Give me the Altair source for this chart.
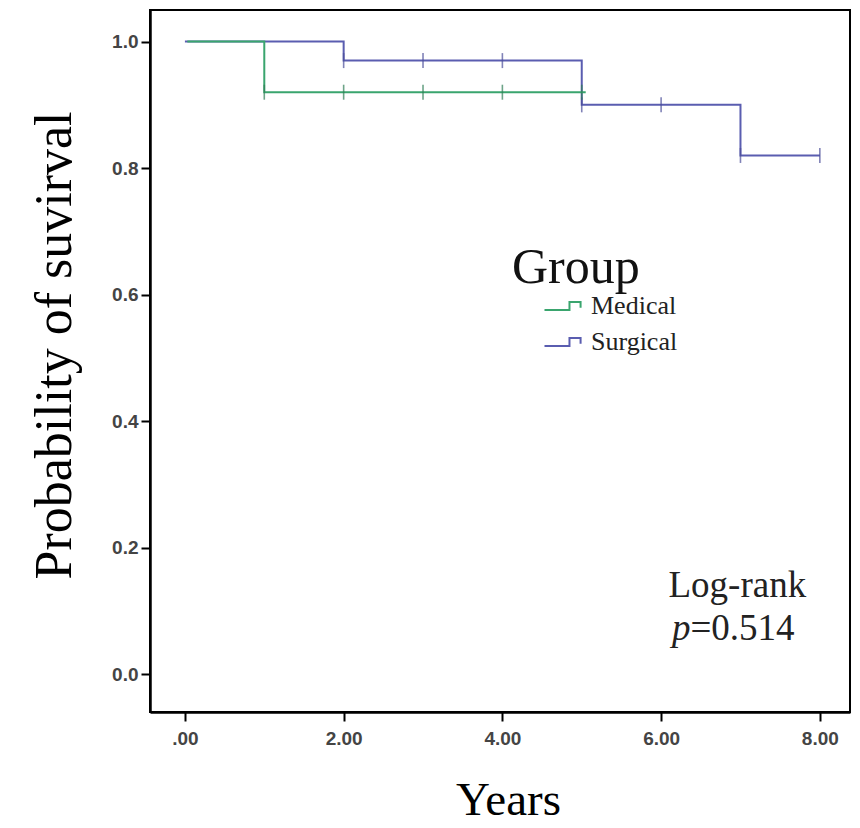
import altair as alt
import pandas as pd

# Kaplan-Meier step points
groups = ["Medical", "Surgical"]
med_t = [0.03, 1.0, 5.05]
med_s = [1.0, 0.92, 0.92]
sur_t = [0.0, 2.0, 5.0, 7.0, 8.0]
sur_s = [1.0, 0.97, 0.90, 0.82, 0.82]

# censoring marks
med_cens_t = [1.0, 2.0, 3.0, 4.0, 5.0]
med_cens_s = [0.92, 0.92, 0.92, 0.92, 0.92]
sur_cens_t = [2.0, 3.0, 4.0, 5.0, 6.0, 7.0, 8.0]
sur_cens_s = [0.97, 0.97, 0.97, 0.90, 0.90, 0.82, 0.82]

x_ticks = [0, 2, 4, 6, 8]
y_ticks = [0.0, 0.2, 0.4, 0.6, 0.8, 1.0]
colors = ["#3aa56e", "#5a5db0"]
cens_colors = ["#2f7d55", "#4a4d98"]

lines = pd.DataFrame({
    "t": sur_t + med_t,
    "s": sur_s + med_s,
    "g": ["Surgical"] * len(sur_t) + ["Medical"] * len(med_t),
    "o": list(range(len(sur_t))) + list(range(len(med_t))),
})
cens = pd.DataFrame({
    "t": sur_cens_t + med_cens_t,
    "s": sur_cens_s + med_cens_s,
    "g": ["Surgical"] * len(sur_cens_t) + ["Medical"] * len(med_cens_t),
})

serif = "Liberation Serif"
sans = "Liberation Sans"

xscale = alt.Scale(domain=[-0.44, 8.38], nice=False, zero=False)
yscale = alt.Scale(domain=[-0.06, 1.05], nice=False, zero=False)

xaxis = alt.Axis(values=x_ticks, title="Years", grid=False,
                 labelExpr="datum.value == 0 ? '.00' : format(datum.value, '.2f')",
                 labelFont=sans, labelFontSize=19, labelColor="#444", labelFontWeight="bold",
                 labelPadding=8, tickSize=9, tickWidth=2, tickColor="black",
                 domainColor="black", domainWidth=2.5,
                 titleFont=serif, titleFontSize=47, titleFontWeight="normal",
                 titleColor="black", titleX=358, titleY=102,
                 titleAlign="center", titleBaseline="alphabetic")
yaxis = alt.Axis(values=y_ticks, title="Probability of suvirval", grid=False, format=".1f",
                 labelFont=sans, labelFontSize=19, labelColor="#444", labelFontWeight="bold",
                 labelPadding=3, tickSize=9, tickWidth=2, tickColor="black",
                 domainColor="black", domainWidth=2.5,
                 titleFont=serif, titleFontSize=52, titleFontWeight="normal",
                 titleColor="black", titleX=-80, titleY=335,
                 titleAlign="center", titleBaseline="alphabetic", titleAngle=-90)

color_scale = alt.Scale(domain=groups, range=colors)

line_layer = alt.Chart(lines).mark_line(interpolate="step-after", strokeWidth=2).encode(
    x=alt.X("t:Q", scale=xscale, axis=xaxis),
    y=alt.Y("s:Q", scale=yscale, axis=yaxis),
    color=alt.Color("g:N", scale=color_scale,
                    legend=alt.Legend(title=None, orient="none", legendX=393, legendY=276,
                                      labelFont=serif, labelFontSize=26, labelColor="#222",
                                      symbolType="M-1,0.22H0.35V-0.22H0.95V0.1",
                                      symbolSize=1370, symbolStrokeWidth=2,
                                      symbolFillColor="transparent", rowPadding=3,
                                      labelOffset=8, padding=0, offset=0)),
    order="o:Q",
    detail="g:N",
)

tick_layer = alt.Chart(cens).mark_tick(orient="vertical", size=15, thickness=1.6).encode(
    x=alt.X("t:Q", scale=xscale),
    y=alt.Y("s:Q", scale=yscale),
    color=alt.Color("g:N", scale=alt.Scale(domain=groups, range=cens_colors), legend=None),
)

group_title = alt.Chart().mark_text(font=serif, fontSize=50, align="left", baseline="alphabetic",
                                    color="#111").encode(
    x=alt.datum(4.12), y=alt.datum(0.619), text=alt.value("Group"))
logrank = alt.Chart().mark_text(font=serif, fontSize=37, align="center", baseline="alphabetic",
                                color="#222").encode(
    x=alt.datum(6.96), y=alt.datum(0.122), text=alt.value("Log-rank"))
p_it = alt.Chart().mark_text(font=serif, fontSize=37, fontStyle="italic", align="right",
                             baseline="alphabetic", color="#222").encode(
    x=alt.datum(6.37), y=alt.datum(0.054), text=alt.value("p"))
p_val = alt.Chart().mark_text(font=serif, fontSize=37, align="left",
                              baseline="alphabetic", color="#222").encode(
    x=alt.datum(6.37), y=alt.datum(0.054), text=alt.value("=0.514"))

chart = alt.layer(line_layer, tick_layer, group_title, logrank, p_it, p_val).resolve_scale(
    color="independent"
).properties(
    width=700, height=702,
    autosize=alt.AutoSizeParams(type="none"),
    padding={"left": 150, "top": 10, "right": 10, "bottom": 116},
    background="white",
).configure_view(stroke="black", strokeWidth=2)

chart.save("out.html", embed_options={"renderer": "svg", "actions": False})
